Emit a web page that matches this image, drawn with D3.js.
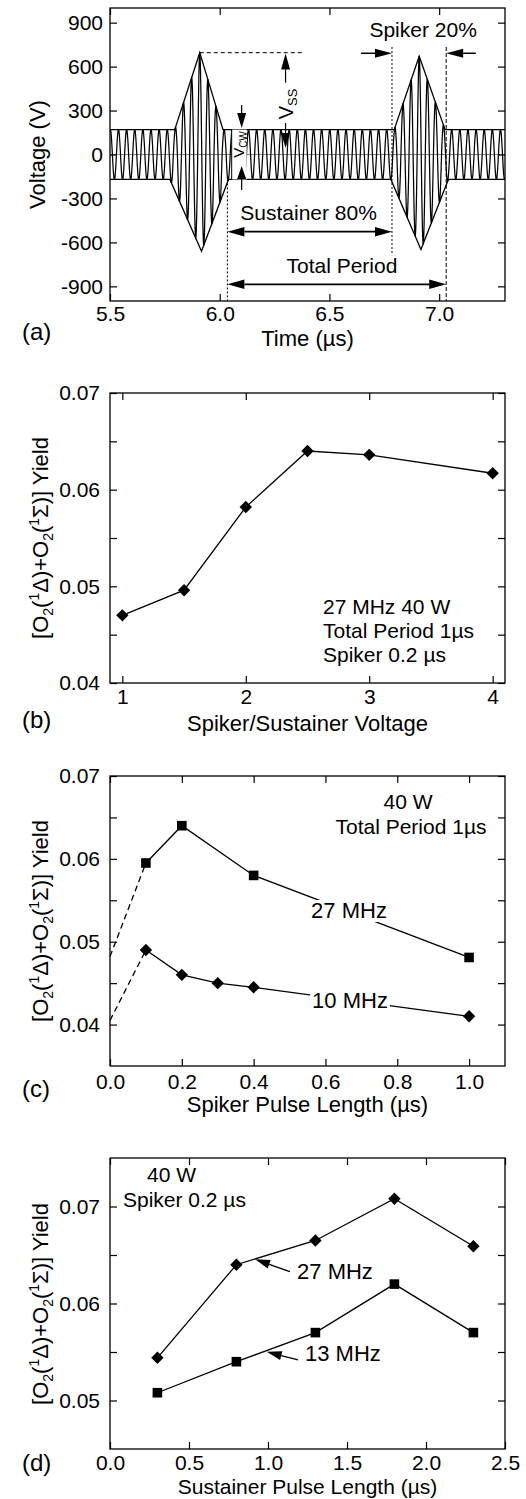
<!DOCTYPE html>
<html><head><meta charset="utf-8">
<script src="https://cdn.jsdelivr.net/npm/d3@7"></script>
<style>
body{margin:0;background:#fff;}
svg{display:block;}
</style></head><body>
<svg id="c" width="526" height="1499"></svg>
<script>
// ---------- Panel (a): voltage waveform ----------
const timeTicks = [5.5, 6.0, 6.5, 7.0];
const voltTicks = [-900, -600, -300, 0, 300, 600, 900];
const carrierFreqMHz = 27;
const upperEnvT = [5.5, 5.795, 5.909, 6.015, 6.795, 6.909, 7.027, 7.3];
const upperEnvV = [170, 170, 695, 170, 170, 670, 170, 170];
const lowerEnvT = [5.5, 5.773, 5.917, 6.04, 6.78, 6.917, 7.042, 7.3];
const lowerEnvV = [-170, -170, -660, -170, -170, -648, -170, -170];

// ---------- Panel (b): yield vs spiker/sustainer voltage ----------
const ratioTicks = [1, 2, 3, 4];
const ratioX = [1, 1.5, 2, 2.5, 3, 4];
const ratioYield = [0.0470, 0.0496, 0.0582, 0.0640, 0.0636, 0.0617];

// ---------- Panel (c): yield vs spiker pulse length ----------
const spikerTicks = [0, 0.2, 0.4, 0.6, 0.8, 1.0];
const spikerX27 = [0.1, 0.2, 0.4, 1.0];
const yield27c = [0.0595, 0.0640, 0.0580, 0.0481];
const spikerX10 = [0.1, 0.2, 0.3, 0.4, 1.0];
const yield10c = [0.0490, 0.0460, 0.0450, 0.0445, 0.0410];
const extrapX = [0, 0.1];
const extrap27 = [0.0482, 0.0595];
const extrap10 = [0.0405, 0.0490];

// ---------- Panel (d): yield vs sustainer pulse length ----------
const sustTicks = [0, 0.5, 1.0, 1.5, 2.0, 2.5];
const sustX = [0.3, 0.8, 1.3, 1.8, 2.3];
const yield27d = [0.0544, 0.0640, 0.0665, 0.0708, 0.0659];
const yield13d = [0.0508, 0.0540, 0.0570, 0.0620, 0.0570];

const yieldTicksBC = [0.04, 0.05, 0.06, 0.07];
const yieldMinorBC = [0.045, 0.055, 0.065];
const yieldTicksD = [0.05, 0.06, 0.07];
const yieldMinorD = [0.055, 0.065];

// ---------- drawing ----------
const FONT = '"Liberation Sans", Arial, Helvetica, sans-serif';
const svg = d3.select("#c").attr("font-family", FONT);
const L = 110, R = 505;

function frame(p) {
  const g = svg.append("g");
  const [l, r] = p.x.range();
  const [b, t] = p.y.range();
  const ax = (gen, tr) => {
    const a = g.append("g").attr("transform", tr).call(gen);
    a.select(".domain").remove();
    a.selectAll("line").attr("stroke", "#000").attr("stroke-width", 1.2);
    a.attr("font-size", 21).attr("font-family", FONT);
    a.selectAll("text").attr("fill", "#000");
    return a;
  };
  const allY = p.yt.concat(p.yMinor || []);
  ax(d3.axisBottom(p.x).tickValues(p.xt).tickSize(-7).tickSizeOuter(0).tickPadding(p.xPad).tickFormat(p.xFmt), `translate(0,${b})`);
  ax(d3.axisTop(p.x).tickValues(p.xt).tickSize(-7).tickSizeOuter(0).tickFormat(""), `translate(0,${t})`);
  ax(d3.axisLeft(p.y).tickValues(allY).tickSize(-7).tickSizeOuter(0).tickPadding(p.yPad)
      .tickFormat(d => p.yt.includes(d) ? p.yFmt(d) : ""), `translate(${l},0)`);
  ax(d3.axisRight(p.y).tickValues(allY).tickSize(-7).tickSizeOuter(0).tickFormat(""), `translate(${r},0)`);
  g.append("rect").attr("x", l).attr("y", t).attr("width", r - l).attr("height", b - t)
    .attr("fill", "none").attr("stroke", "#000").attr("stroke-width", 1.3);
  return g;
}

function text(g, x, y, s, size, anchor) {
  return g.append("text").attr("x", x).attr("y", y).attr("font-size", size)
    .attr("text-anchor", anchor || "start").attr("fill", "#000").text(s);
}

function arrowHead(g, x1, y1, x2, y2, hl, hw) {
  const a = Math.atan2(y2 - y1, x2 - x1);
  const bx = x2 - hl * Math.cos(a), by = y2 - hl * Math.sin(a);
  g.append("path").attr("d",
    `M${x2},${y2}L${bx + hw * Math.sin(a)},${by - hw * Math.cos(a)}L${bx - hw * Math.sin(a)},${by + hw * Math.cos(a)}Z`)
    .attr("fill", "#000");
  return [bx, by];
}
function arrow(g, x1, y1, x2, y2, hl, hw, sw) {
  const [bx, by] = arrowHead(g, x1, y1, x2, y2, hl, hw);
  g.append("line").attr("x1", x1).attr("y1", y1).attr("x2", bx).attr("y2", by)
    .attr("stroke", "#000").attr("stroke-width", sw || 1.3);
}
function dblArrow(g, x1, y, x2, hl, hw, sw) {
  g.append("line").attr("x1", x1 + hl).attr("y1", y).attr("x2", x2 - hl).attr("y2", y)
    .attr("stroke", "#000").attr("stroke-width", sw || 1.6);
  arrowHead(g, x2, y, x1, y, hl, hw);
  arrowHead(g, x1, y, x2, y, hl, hw);
}

function yieldTitle(x, cy) {
  const t = svg.append("text").attr("transform", `translate(${x},${cy}) rotate(-90)`)
    .attr("text-anchor", "middle").attr("font-size", 22).attr("fill", "#000");
  const parts = [["[O", 0, 22], ["2", 5, 14], ["(", -5, 22], ["1", -9, 14], ["\u0394)+O", 9, 22],
                 ["2", 5, 14], ["(", -5, 22], ["1", -9, 14], ["\u03A3)] Yield", 9, 22]];
  parts.forEach(([s, dy, fs]) => t.append("tspan").attr("dy", dy).attr("font-size", fs).text(s));
}

function markers(g, xs, ys, x, y, kind) {
  const path = kind === "diamond" ? "M0,-6.2L6.2,0L0,6.2L-6.2,0Z" : "M-4.8,-4.8H4.8V4.8H-4.8Z";
  g.selectAll(null).data(xs.map((d, i) => [d, ys[i]])).enter().append("path")
    .attr("d", path).attr("transform", d => `translate(${x(d[0])},${y(d[1])})`).attr("fill", "#000");
}
function series(g, xs, ys, x, y, dash) {
  const line = d3.line().x(d => x(d[0])).y(d => y(d[1]));
  g.append("path").attr("d", line(xs.map((d, i) => [d, ys[i]]))).attr("fill", "none")
    .attr("stroke", "#000").attr("stroke-width", 1.3).attr("stroke-dasharray", dash || null);
}
function maskLabel(g, x, y, s, size, anchor) {
  const t = text(g, x, y, s, size, anchor);
  const bb = t.node().getBBox();
  g.insert("rect", () => t.node()).attr("x", bb.x - 2).attr("y", bb.y + 2)
    .attr("width", bb.width + 4).attr("height", bb.height - 3).attr("fill", "#fff");
}

// ===== Panel (a) =====
{
  const x = d3.scaleLinear().domain([5.5, 7.3]).range([L, R]);
  const y = d3.scaleLinear().domain([-1000, 1000]).range([301, 8]);
  const g = svg.append("g");
  g.append("clipPath").attr("id", "clipA").append("rect")
    .attr("x", L).attr("y", 8).attr("width", R - L).attr("height", 293);
  const gc = g.append("g").attr("clip-path", "url(#clipA)");
  gc.append("line").attr("x1", L).attr("x2", R).attr("y1", y(0)).attr("y2", y(0))
    .attr("stroke", "#888").attr("stroke-width", 1);
  const envU = d3.scaleLinear().domain(upperEnvT).range(upperEnvV);
  const envL = d3.scaleLinear().domain(lowerEnvT).range(lowerEnvV);
  const tPeak = upperEnvT[2];
  const pts = d3.range(5.5, 7.3005, 0.0004).map(t => {
    const c = Math.cos(2 * Math.PI * carrierFreqMHz * (t - tPeak));
    return [t, c >= 0 ? envU(t) * c : -envL(t) * c];
  });
  const line = d3.line().x(d => x(d[0])).y(d => y(d[1]));
  gc.append("path").attr("d", line(pts)).attr("fill", "none").attr("stroke", "#000").attr("stroke-width", 1.25);
  gc.append("path").attr("d", line(upperEnvT.map((t, i) => [t, upperEnvV[i]]))).attr("fill", "none")
    .attr("stroke", "#000").attr("stroke-width", 1.3);
  gc.append("path").attr("d", line(lowerEnvT.map((t, i) => [t, lowerEnvV[i]]))).attr("fill", "none")
    .attr("stroke", "#000").attr("stroke-width", 1.3);
  // V_cw label box
  gc.append("rect").attr("x", x(6.0545)).attr("y", y(170)).attr("width", x(6.1227) - x(6.0545))
    .attr("height", y(-170) - y(170)).attr("fill", "#fff");
  gc.append("line").attr("x1", x(6.0545)).attr("x2", x(6.0545)).attr("y1", y(170)).attr("y2", y(-170))
    .attr("stroke", "#000").attr("stroke-width", 1);
  // peak dashed line
  g.append("line").attr("x1", x(5.909)).attr("x2", x(6.38)).attr("y1", y(695)).attr("y2", y(695))
    .attr("stroke", "#000").attr("stroke-width", 1).attr("stroke-dasharray", "4,3");
  // vertical guides
  g.append("line").attr("x1", x(6.035)).attr("x2", x(6.035)).attr("y1", y(-170)).attr("y2", y(-1000))
    .attr("stroke", "#000").attr("stroke-width", 1).attr("stroke-dasharray", "2,2");
  g.append("line").attr("x1", x(6.785)).attr("x2", x(6.785)).attr("y1", y(734)).attr("y2", y(-672))
    .attr("stroke", "#000").attr("stroke-width", 1).attr("stroke-dasharray", "2,2");
  g.append("line").attr("x1", x(7.032)).attr("x2", x(7.032)).attr("y1", y(734)).attr("y2", y(-1000))
    .attr("stroke", "#000").attr("stroke-width", 1).attr("stroke-dasharray", "4,2");
  // V_ss arrows
  arrow(g, x(6.30), y(490), x(6.30), y(690), 16, 4.5, 1.2);
  arrow(g, x(6.30), y(215), x(6.30), y(45), 15, 4.5, 1.2);
  const vss = g.append("text").attr("transform", `translate(${x(6.30) + 7},${y(240)}) rotate(-90)`)
    .attr("font-size", 20).attr("fill", "#000");
  vss.append("tspan").text("V");
  vss.append("tspan").attr("dy", 4).attr("font-size", 13).text("SS");
  // V_cw arrows
  arrow(g, x(6.10), y(338), x(6.10), y(181), 15, 4.5, 1.2);
  arrow(g, x(6.10), y(-242), x(6.10), y(-78), 13, 4.5, 1.2);
  const vcw = g.append("text").attr("transform", `translate(${x(6.10) + 2},${y(-23)}) rotate(-90)`)
    .attr("font-size", 15).attr("fill", "#000");
  vcw.append("tspan").text("V");
  vcw.append("tspan").attr("dy", 3).attr("font-size", 10).text("CW");
  // spiker arrows & text
  arrow(g, x(6.644), y(691), x(6.785), y(691), 17, 4.5, 1.5);
  arrow(g, x(7.167), y(691), x(7.032), y(691), 17, 4.5, 1.5);
  text(g, x(6.927), y(800), "Spiker 20%", 21, "middle");
  dblArrow(g, x(6.035), y(-527), x(6.785), 17, 4.8, 1.8);
  text(g, x(6.405), y(-445), "Sustainer 80%", 21, "middle");
  dblArrow(g, x(6.035), y(-886), x(7.032), 17, 4.8, 1.8);
  text(g, x(6.557), y(-809), "Total Period", 21, "middle");
  frame({x, y, xt: timeTicks, yt: voltTicks, xFmt: d3.format(".1f"), yFmt: d => String(d), xPad: 5, yPad: 7});
  text(svg, 307.5, 346, "Time (\u00B5s)", 22, "middle");
  svg.append("text").attr("transform", `translate(45,154.5) rotate(-90)`).attr("text-anchor", "middle")
    .attr("font-size", 22).attr("fill", "#000").text("Voltage (V)");
  text(svg, 22, 340, "(a)", 24);
}

// ===== Panel (b) =====
{
  const x = d3.scaleLinear().domain([0.9, 4.1]).range([L, R]);
  const y = d3.scaleLinear().domain([0.04, 0.07]).range([683, 393]);
  const g = svg.append("g");
  series(g, ratioX, ratioYield, x, y);
  markers(g, ratioX, ratioYield, x, y, "diamond");
  text(g, 323, 614, "27 MHz 40 W", 21);
  text(g, 323, 638, "Total Period 1\u00B5s", 21);
  text(g, 323, 662, "Spiker 0.2 \u00B5s", 21);
  frame({x, y, xt: ratioTicks, yt: yieldTicksBC, yMinor: yieldMinorBC, xFmt: d => String(d), yFmt: d3.format(".2f"), xPad: 6, yPad: 10});
  text(svg, 307.5, 731, "Spiker/Sustainer Voltage", 22, "middle");
  yieldTitle(48, 538);
  text(svg, 22, 728, "(b)", 24);
}

// ===== Panel (c) =====
{
  const x = d3.scaleLinear().domain([0, 1.1]).range([L, R]);
  const y = d3.scaleLinear().domain([0.035, 0.07]).range([1066, 776]);
  const g = svg.append("g");
  series(g, extrapX, extrap27, x, y, "6,4");
  series(g, extrapX, extrap10, x, y, "6,4");
  series(g, spikerX27, yield27c, x, y);
  series(g, spikerX10, yield10c, x, y);
  maskLabel(g, 349, 918, "27 MHz", 22, "middle");
  maskLabel(g, 350, 1008, "10 MHz", 22, "middle");
  markers(g, spikerX27, yield27c, x, y, "square");
  markers(g, spikerX10, yield10c, x, y, "diamond");
  text(g, 408, 809, "40 W", 21, "middle");
  text(g, 411, 834, "Total Period 1\u00B5s", 21, "middle");
  frame({x, y, xt: spikerTicks, yt: yieldTicksBC, yMinor: yieldMinorBC, xFmt: d3.format(".1f"), yFmt: d3.format(".2f"), xPad: 8, yPad: 10});
  text(svg, 307.5, 1112, "Spiker Pulse Length (\u00B5s)", 22, "middle");
  yieldTitle(48, 921);
  text(svg, 22, 1097, "(c)", 24);
}

// ===== Panel (d) =====
{
  const x = d3.scaleLinear().domain([0, 2.5]).range([L, R]);
  const y = d3.scaleLinear().domain([0.045, 0.075]).range([1449, 1158]);
  const g = svg.append("g");
  series(g, sustX, yield27d, x, y);
  series(g, sustX, yield13d, x, y);
  markers(g, sustX, yield27d, x, y, "diamond");
  markers(g, sustX, yield13d, x, y, "square");
  arrow(g, x(1.139), y(0.06328), x(0.918), y(0.06456), 15, 4.5, 1.3);
  text(g, x(1.184), y(0.0625), "27 MHz", 22);
  arrow(g, x(1.190), y(0.05418), x(0.992), y(0.05503), 15, 4.5, 1.3);
  text(g, x(1.234), y(0.0541), "13 MHz", 22);
  text(g, x(0.234), 1182, "40 W", 21);
  text(g, x(0.082), 1207, "Spiker 0.2 \u00B5s", 21);
  frame({x, y, xt: sustTicks, yt: yieldTicksD, yMinor: yieldMinorD, xFmt: d3.format(".1f"), yFmt: d3.format(".2f"), xPad: 6, yPad: 10});
  text(svg, 307.5, 1494, "Sustainer Pulse Length (\u00B5s)", 21, "middle");
  yieldTitle(48, 1304);
  text(svg, 22, 1471, "(d)", 24);
}
</script>
</body></html>
